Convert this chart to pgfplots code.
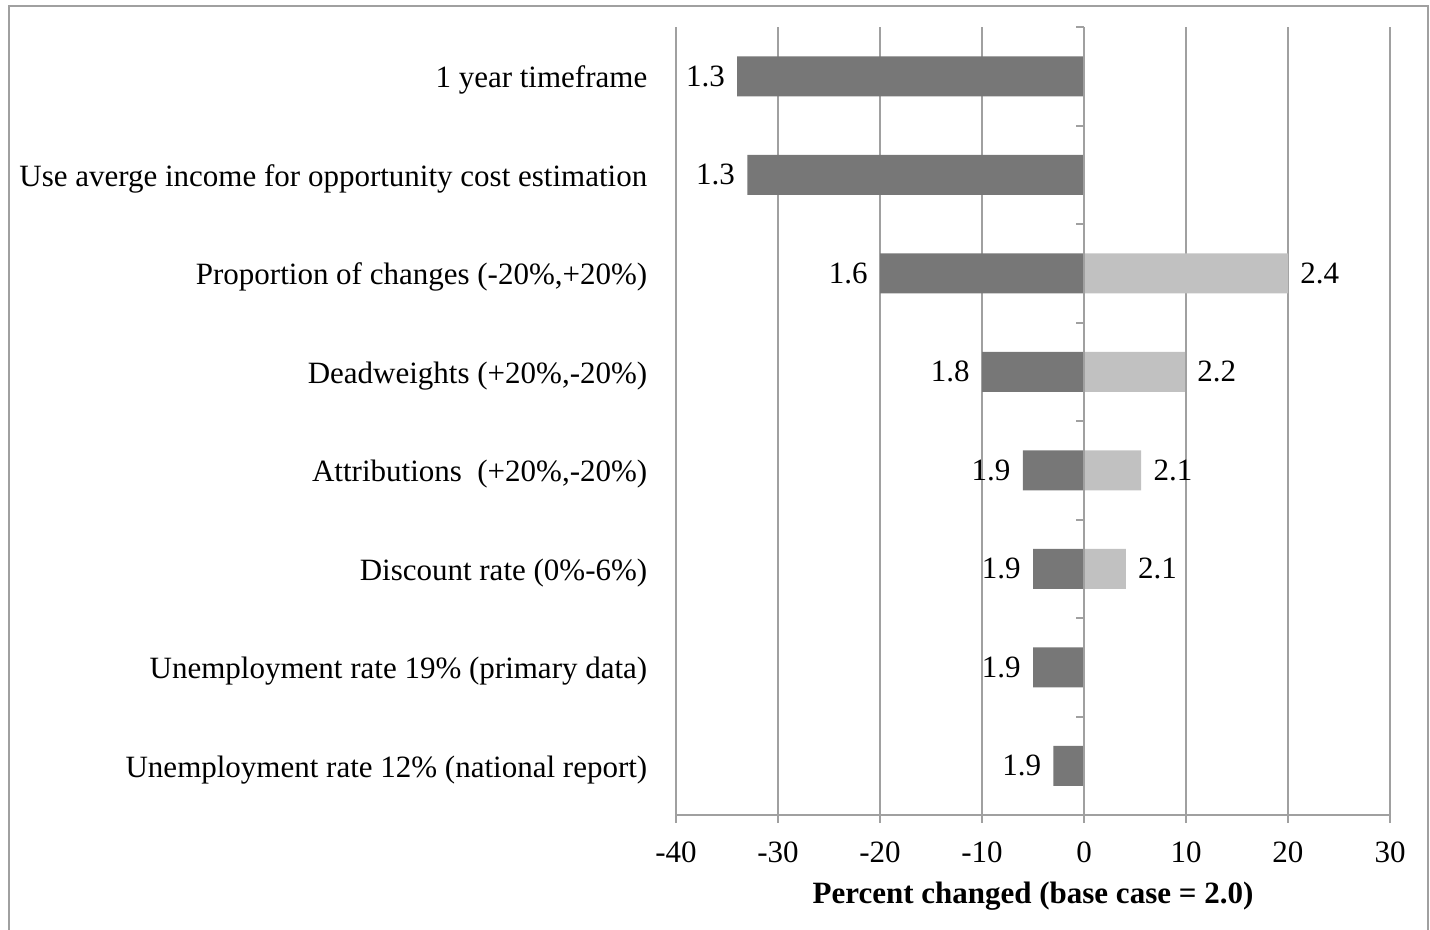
\documentclass[border=0pt]{standalone}
\usepackage{fontspec}
\setmainfont{Liberation Serif}
\usepackage{pgfplots}
\pgfplotsset{compat=1.18}
\definecolor{darkbar}{RGB}{119,119,119}
\definecolor{lightbar}{RGB}{193,193,193}
\definecolor{gridgray}{RGB}{160,160,160}

\begin{document}
\fontsize{15.5}{18}\selectfont
\begin{tikzpicture}
\path[use as bounding box] (0,0) rectangle (715pt,465pt);
\draw[gridgray, line width=1pt] (4.3pt,-2pt) rectangle (714pt,461.8pt);
\begin{axis}[
    at={(338pt,57.5pt)}, anchor=south west,
    scale only axis, width=357pt, height=394pt,
    xbar, bar width=20pt,
    xmin=-40, xmax=30, ymin=0.5, ymax=8.5, y dir=reverse,
    xtick={-40,-30,...,30},
    xticklabels={-40,-30,-20,-10,0,10,20,30},
    xticklabel style={yshift=-4pt},
    ytick={1,...,8},
    yticklabels={1 year timeframe,
        Use averge income for opportunity cost estimation,
        {Proportion of changes (-20\%,+20\%)},
        {Deadweights (+20\%,-20\%)},
        {Attributions\ \ (+20\%,-20\%)},
        {Discount rate (0\%-6\%)},
        {Unemployment rate 19\% (primary data)},
        {Unemployment rate 12\% (national report)}},
    yticklabel style={anchor=east, xshift=-5pt, yshift=-2pt},
    ytick style={draw=none},
    xtick style={gridgray, line width=1pt},
    tick align=outside, major tick length=4pt,
    axis x line*=bottom, axis y line*=left,
    axis line style={gridgray, line width=1pt},
    xmajorgrids, grid style={gridgray, line width=1pt},
    xlabel={\textbf{Percent changed (base case = 2.0)}},
    xlabel style={yshift=1pt},
    clip=false,
    nodes near coords,
    point meta=explicit symbolic,
]
% low side of each parameter
\addplot[bar shift=0pt, fill=darkbar, draw=none,
    every node near coord/.style={anchor=east, text=black, inner sep=6pt}] coordinates {
    (-34,1) [1.3]
    (-33,2) [1.3]
    (-20,3) [1.6]
    (-10,4) [1.8]
    (-6,5)  [1.9]
    (-5,6)  [1.9]
    (-5,7)  [1.9]
    (-3,8)  [1.9]
};
% high side
\addplot[bar shift=0pt, fill=lightbar, draw=none,
    every node near coord/.style={anchor=west, text=black, inner sep=6pt}] coordinates {
    (20,3)  [2.4]
    (9.9,4) [2.2]
    (5.6,5) [2.1]
    (4.1,6) [2.1]
};
% zero line with the category ticks
\draw[gridgray, line width=1pt] (axis cs:0,0.5) -- (axis cs:0,8.5);
\draw[gridgray, line width=1pt] (axis cs:0,0.5) -- ([xshift=-4pt]axis cs:0,0.5);
\draw[gridgray, line width=1pt] (axis cs:0,1.5) -- ([xshift=-4pt]axis cs:0,1.5);
\draw[gridgray, line width=1pt] (axis cs:0,2.5) -- ([xshift=-4pt]axis cs:0,2.5);
\draw[gridgray, line width=1pt] (axis cs:0,3.5) -- ([xshift=-4pt]axis cs:0,3.5);
\draw[gridgray, line width=1pt] (axis cs:0,4.5) -- ([xshift=-4pt]axis cs:0,4.5);
\draw[gridgray, line width=1pt] (axis cs:0,5.5) -- ([xshift=-4pt]axis cs:0,5.5);
\draw[gridgray, line width=1pt] (axis cs:0,6.5) -- ([xshift=-4pt]axis cs:0,6.5);
\draw[gridgray, line width=1pt] (axis cs:0,7.5) -- ([xshift=-4pt]axis cs:0,7.5);
\end{axis}
\end{tikzpicture}
\end{document}
